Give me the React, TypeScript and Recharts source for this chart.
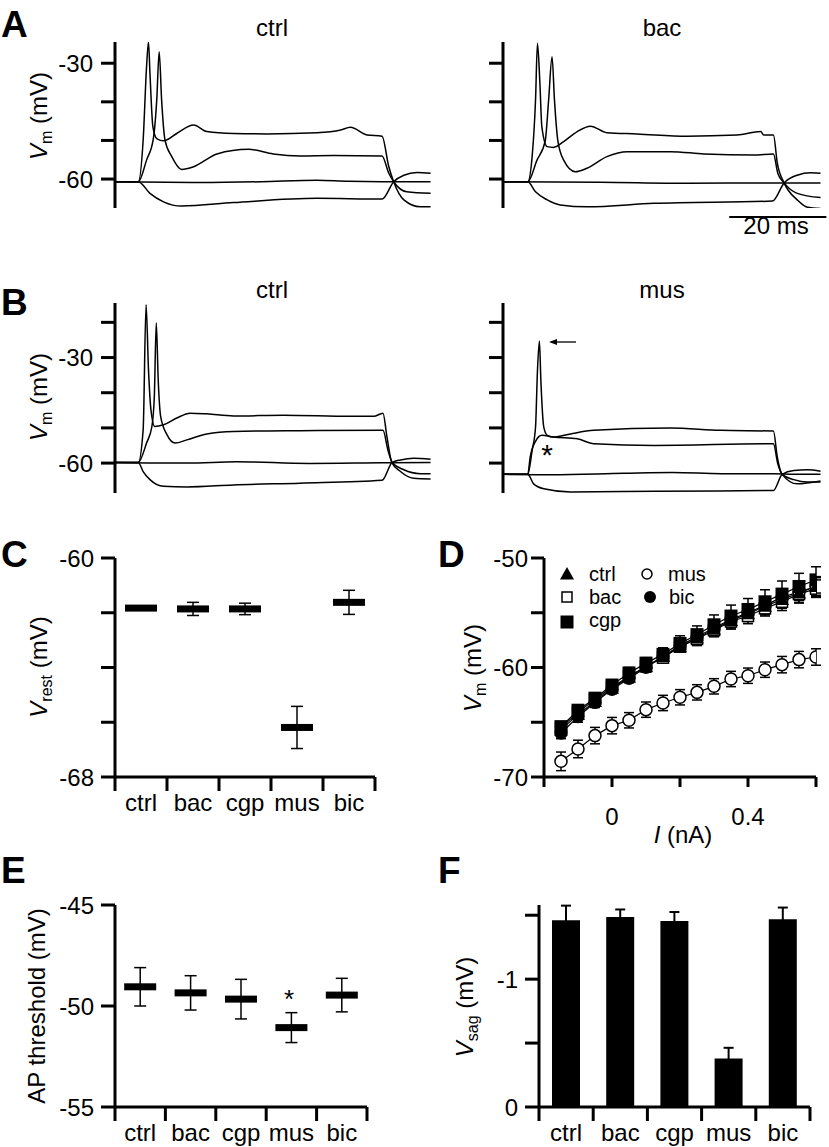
import React from "react";
import {
  Bar,
  ComposedChart,
  ErrorBar,
  Line,
  LineChart,
  ReferenceLine,
  XAxis,
  YAxis,
} from "recharts";

const FONT = "'Liberation Sans', Arial, Helvetica, sans-serif";
const INK = "#000";
const AXIS_LINE = { stroke: INK, strokeWidth: 3 };
const TICK_TEXT = { fill: INK, fontSize: 24, fontFamily: FONT };

// A / B: membrane potential traces, [time (ms), Vm (mV)]
type Pt = [number, number];

const aCtrlHi: Pt[] = [[0, -60.7], [4.8, -60.7], [5.8, -49.9], [6.5, -30.9], [6.9, -24.5], [7.2, -32.6], [7.8, -46.4], [8.6, -49.5], [10, -50.1], [12.7, -48.2], [16.2, -46.0], [18.9, -47.7], [24.4, -48.2], [31.3, -48.3], [41.6, -48.0], [46.5, -47.3], [48.5, -46.6], [51.9, -48.6], [55, -48.9], [56.4, -56.8], [57.4, -60.7], [59.5, -65.4], [62.9, -67.2], [65, -67.2]];
const aCtrlMid: Pt[] = [[0, -60.7], [4.8, -60.7], [6.5, -55.1], [7.9, -49.5], [8.6, -39.5], [9.1, -27.0], [9.6, -39.5], [10.3, -49.9], [11.7, -54.2], [13.7, -57.5], [16.2, -56.8], [21, -53.5], [27.5, -52.3], [32.6, -53.5], [38.1, -54.0], [45, -53.9], [55, -54.0], [56.4, -58.5], [57.4, -60.7], [60.1, -63.3], [65, -63.7]];
const aCtrlZero: Pt[] = [[0, -60.7], [17.5, -60.9], [30, -60.7], [41.6, -60.3], [48, -60.6], [55, -60.7], [65, -60.7]];
const aCtrlNeg: Pt[] = [[0, -60.7], [4.8, -60.7], [7.2, -63.7], [10, -65.9], [13.7, -67.0], [24.4, -66.1], [41.6, -65.0], [55, -65.2], [57.4, -60.7], [59.5, -59.0], [62.2, -58.3], [65, -58.5]];

const aBacHi: Pt[] = [[0, -60.7], [5.1, -60.7], [6, -54.2], [6.7, -39.5], [7.1, -24.8], [7.6, -35.2], [8, -46.4], [9.1, -51.6], [10.4, -51.8], [12.5, -50.3], [15.3, -47.7], [18, -46.3], [21.4, -48.0], [27.6, -48.3], [37.9, -48.9], [48.2, -48.6], [53.1, -47.7], [53.7, -48.6], [55.7, -48.6], [56.5, -55.9], [57.9, -61.0], [60.6, -65.4], [62.7, -67.3], [65.4, -67.6]];
const aBacMid: Pt[] = [[0, -60.7], [5.1, -60.7], [7, -55.1], [8.7, -50.1], [9.4, -39.5], [10.1, -28.3], [10.6, -39.5], [11.3, -50.1], [12.5, -55.1], [14.9, -58.1], [17.3, -57.2], [21.4, -54.2], [25.6, -52.9], [34.5, -52.9], [41.4, -53.5], [51.7, -53.8], [55.7, -53.5], [56.6, -58.5], [57.9, -61.0], [60.6, -63.7], [65.4, -64.8]];
const aBacZero: Pt[] = [[0, -60.7], [20, -60.8], [38, -61.1], [55.7, -61.0], [60, -61.0], [65.4, -61.0]];
const aBacNeg: Pt[] = [[0, -60.7], [5.1, -60.7], [6.7, -63.3], [9.1, -65.4], [11.8, -66.7], [17.3, -67.2], [31.1, -66.3], [55.5, -65.7], [57.9, -61.0], [60.6, -59.0], [63.4, -58.4], [65.4, -58.5]];

const bCtrlHi: Pt[] = [[0, -59.8], [4.8, -59.8], [5.8, -50.5], [6.4, -15.0], [6.9, -33.5], [7.4, -44.8], [8.2, -49.6], [10, -49.1], [12.7, -47.2], [15.5, -45.8], [18.9, -46.0], [24.4, -46.6], [34.7, -46.4], [48.5, -46.7], [53.3, -46.7], [55.2, -45.8], [56, -52.4], [57, -59.8], [58.8, -62.4], [61.5, -64.3], [65, -64.5]];
const bCtrlMid: Pt[] = [[0, -59.8], [4.8, -59.8], [6.5, -54.3], [7.6, -49.6], [8.1, -41.1], [8.5, -20.2], [8.9, -36.3], [9.4, -46.7], [10.7, -51.9], [12.4, -54.3], [14.8, -53.4], [18.9, -51.7], [24.4, -51.0], [38.1, -50.8], [55.2, -50.7], [56.2, -56.2], [57.1, -59.8], [59.5, -61.9], [62.9, -63.0], [65, -63.0]];
const bCtrlZero: Pt[] = [[0, -59.8], [15, -60.0], [25, -59.6], [40, -60.1], [55, -59.9], [65, -59.8]];
const bCtrlNeg: Pt[] = [[0, -59.8], [4.8, -59.8], [5.8, -62.4], [7.2, -64.7], [10, -66.6], [14.8, -66.8], [24.4, -66.2], [38.1, -65.7], [55, -64.9], [57.1, -59.8], [58.8, -59.1], [61.5, -58.6], [65, -58.9]];

const bMusHi: Pt[] = [[0, -63.2], [5.1, -63.2], [6, -56.4], [6.7, -49.8], [7.1, -33.7], [7.5, -25.3], [7.8, -36.5], [8.4, -49.8], [9.1, -52.1], [10.4, -52.6], [13.9, -51.7], [18.7, -50.7], [34.5, -50.0], [44.8, -50.7], [55.7, -50.9], [56.5, -58.3], [57.5, -63.2], [59.9, -64.7], [62.7, -65.4], [65.4, -65.4]];
const bMusMid: Pt[] = [[0, -63.2], [5.1, -63.2], [5.6, -58.3], [6.7, -53.8], [8, -52.1], [10.4, -52.6], [15.3, -53.1], [18.7, -54.5], [31.1, -55.0], [55.7, -54.5], [56.6, -60.2], [57.5, -63.2], [60.6, -65.9], [65.4, -65.1]];
const bMusZero: Pt[] = [[0, -63.2], [10, -63.3], [25, -62.9], [35, -62.7], [45, -63.0], [55.7, -63.0], [60, -63.2], [65.4, -63.2]];
const bMusNeg: Pt[] = [[0, -63.2], [5.1, -63.2], [6.3, -65.9], [8.4, -67.3], [13.9, -68.2], [31.1, -68.0], [55.7, -67.8], [57.5, -63.2], [59.9, -62.1], [62.7, -61.9], [65.4, -62.3]];

const scaleBarMs = [46.6, 66.6];
const scaleBarVm = -69.9;

// C, E, F: per-condition summaries
const categories = ["ctrl", "bac", "cgp", "mus", "bic"];
const vrestMean = [-61.83, -61.86, -61.86, -66.19, -61.62];
const vrestErr = [0.05, 0.24, 0.21, 0.77, 0.44];
const thrMean = [-49.05, -49.35, -49.66, -51.07, -49.46];
const thrErr = [0.95, 0.85, 0.98, 0.74, 0.83];
const sagMean = [-1.46, -1.487, -1.455, -0.38, -1.469];
const sagErr = [0.115, 0.058, 0.07, 0.083, 0.091];

// D: I-V relation
const currents = [-0.15, -0.1, -0.05, 0, 0.05, 0.1, 0.15, 0.2, 0.25, 0.3, 0.35, 0.4, 0.45, 0.5, 0.55, 0.6];
const ivCtrl = [-65.7, -64.3, -63.1, -61.9, -60.9, -59.9, -59.0, -58.1, -57.3, -56.5, -55.7, -55.1, -54.4, -53.8, -53.2, -52.6];
const ivBac = [-65.5, -64.1, -62.9, -61.8, -60.8, -59.9, -59.1, -58.1, -57.4, -56.6, -55.8, -55.3, -54.6, -54.0, -53.3, -52.8];
const ivCgp = [-65.4, -63.9, -62.8, -61.6, -60.5, -59.6, -58.8, -57.8, -57.0, -56.1, -55.3, -54.7, -54.0, -53.3, -52.6, -52.0];
const ivMus = [-68.57, -67.44, -66.22, -65.31, -64.82, -63.85, -63.24, -62.72, -62.27, -61.72, -61.05, -60.75, -60.2, -59.74, -59.28, -59.04];
const ivBic = [-66.0, -64.5, -63.2, -62.0, -61.0, -60.0, -59.0, -58.0, -57.2, -56.4, -55.6, -55.0, -54.3, -53.6, -53.1, -52.6];
const ivCtrlErr = [0.4, 0.4, 0.4, 0.4, 0.4, 0.5, 0.5, 0.5, 0.6, 0.6, 0.7, 0.7, 0.8, 0.8, 0.9, 0.9];
const ivBacErr = [0.4, 0.4, 0.4, 0.4, 0.4, 0.4, 0.5, 0.5, 0.6, 0.6, 0.7, 0.7, 0.7, 0.8, 0.8, 0.8];
const ivCgpErr = [0.4, 0.4, 0.4, 0.4, 0.5, 0.5, 0.6, 0.7, 0.8, 0.9, 1.0, 1.0, 1.1, 1.2, 1.2, 1.2];
const ivMusErr = [0.85, 0.8, 0.75, 0.75, 0.7, 0.7, 0.7, 0.7, 0.7, 0.7, 0.7, 0.7, 0.7, 0.75, 0.75, 0.75];
const ivBicErr = [0.5, 0.5, 0.45, 0.4, 0.4, 0.4, 0.5, 0.5, 0.5, 0.6, 0.6, 0.7, 0.7, 0.8, 0.8, 0.8];

const catTicks = [0, 0.5, 1, 1.5, 2, 2.5, 3, 3.5, 4, 4.5, 5];
const TRACE_W = 318;
const TRACE_END = 65.5;

function CatTick(props: any) {
  const { x, y, payload } = props;
  const v = payload.value;
  if (Number.isInteger(v)) {
    return <line x1={x} y1={y} x2={x} y2={y + 14} stroke={INK} strokeWidth={3} />;
  }
  return (
    <text x={x} y={y + 34} textAnchor="middle" fontSize={24} fontFamily={FONT} fill={INK}>
      {categories[Math.floor(v)]}
    </text>
  );
}

const meanDot = (p: any) => (
  <rect key={`m${p.index}`} x={p.cx - 16} y={p.cy - 3.5} width={32} height={7} fill={INK} />
);

function TracePanel({ left, top, height, domain, ticks, labeled, traces, children }: any) {
  const YW = 100, MT = 20, MR = 30, XH = 10;
  return (
    <div style={{ position: "absolute", left: left - YW, top: top - MT }}>
      <LineChart width={TRACE_W + YW + MR} height={height + MT + XH} margin={{ top: MT, right: MR, bottom: 0, left: 0 }}>
        <XAxis type="number" dataKey="t" domain={[0, TRACE_END]} allowDataOverflow height={XH} axisLine={false} tickLine={false} tick={false} />
        <YAxis
          type="number"
          domain={domain}
          allowDataOverflow
          ticks={ticks}
          interval={0}
          width={YW}
          axisLine={AXIS_LINE}
          tickLine={AXIS_LINE}
          tickSize={14}
          tickMargin={8}
          tick={TICK_TEXT}
          tickFormatter={(v: number) => (labeled.includes(v) ? String(v) : "")}
        />
        {traces.map((tr: Pt[], k: number) => (
          <Line
            key={k}
            data={tr.map(([t, v]) => ({ t, v }))}
            dataKey="v"
            type="monotone"
            stroke={INK}
            strokeWidth={1.5}
            dot={false}
            activeDot={false}
            isAnimationActive={false}
          />
        ))}
        {children}
      </LineChart>
    </div>
  );
}

function CatPanel({ left, top, width, height, yDomain, yTicks, yLabeled, reversed, mean, err, bars }: any) {
  const YW = 100, MT = 20, MR = 20, XH = 50;
  const rows = categories.map((c, k) => ({ x: k + 0.5, name: c, m: mean[k], e: err[k] }));
  return (
    <div style={{ position: "absolute", left: left - YW, top: top - MT }}>
      <ComposedChart width={width + YW + MR} height={height + MT + XH} data={rows} margin={{ top: MT, right: MR, bottom: 0, left: 0 }}>
        <XAxis type="number" dataKey="x" domain={[0, 5]} allowDataOverflow ticks={catTicks} interval={0} tickLine={false} tickSize={0} tickMargin={0} tick={<CatTick />} axisLine={AXIS_LINE} height={XH} />
        <YAxis
          type="number"
          domain={yDomain}
          allowDataOverflow
          reversed={reversed}
          ticks={yTicks}
          interval={0}
          width={YW}
          axisLine={AXIS_LINE}
          tickLine={AXIS_LINE}
          tickSize={14}
          tickMargin={7}
          tick={TICK_TEXT}
          tickFormatter={(v: number) => (yLabeled.includes(v) ? String(v) : "")}
        />
        {bars ? (
          <Bar dataKey="m" fill={INK} barSize={28} isAnimationActive={false}>
            <ErrorBar dataKey="e" width={5} strokeWidth={2} stroke={INK} direction="y" />
          </Bar>
        ) : (
          <Line dataKey="m" stroke="none" dot={meanDot} activeDot={false} isAnimationActive={false}>
            <ErrorBar dataKey="e" width={6} strokeWidth={1.5} stroke={INK} direction="y" />
          </Line>
        )}
      </ComposedChart>
    </div>
  );
}

const triDot = (p: any) => (
  <path key={`t${p.index}`} d={`M${p.cx},${p.cy - 7}L${p.cx + 7},${p.cy + 5.5}L${p.cx - 7},${p.cy + 5.5}Z`} fill={INK} />
);
const openSqDot = (p: any) => (
  <rect key={`o${p.index}`} x={p.cx - 5.5} y={p.cy - 5.5} width={11} height={11} fill="#fff" stroke={INK} strokeWidth={1.5} />
);
const fillSqDot = (p: any) => (
  <rect key={`f${p.index}`} x={p.cx - 6.5} y={p.cy - 6.5} width={13} height={13} fill={INK} />
);
const openCircDot = (p: any) => (
  <circle key={`c${p.index}`} cx={p.cx} cy={p.cy} r={6} fill="#fff" stroke={INK} strokeWidth={1.5} />
);
const fillCircDot = (p: any) => (
  <circle key={`b${p.index}`} cx={p.cx} cy={p.cy} r={6.5} fill={INK} />
);

const ivRows = currents.map((i, k) => ({
  i,
  ctrl: ivCtrl[k], ctrlErr: ivCtrlErr[k],
  bac: ivBac[k], bacErr: ivBacErr[k],
  cgp: ivCgp[k], cgpErr: ivCgpErr[k],
  mus: ivMus[k], musErr: ivMusErr[k],
  bic: ivBic[k], bicErr: ivBicErr[k],
}));

const ivSeries = [
  { key: "mus", dot: openCircDot },
  { key: "bic", dot: fillCircDot },
  { key: "bac", dot: openSqDot },
  { key: "ctrl", dot: triDot },
  { key: "cgp", dot: fillSqDot },
];

function IVPanel() {
  const left = 544, top = 558, width = 272, height = 219;
  const YW = 100, MT = 20, MR = 20, XH = 70;
  const iTicks = [-0.2, 0, 0.2, 0.4, 0.6];
  const iLabeled = [0, 0.4];
  const vLabeled = [-70, -60, -50];
  return (
    <div style={{ position: "absolute", left: left - YW, top: top - MT }}>
      <ComposedChart width={width + YW + MR} height={height + MT + XH} data={ivRows} margin={{ top: MT, right: MR, bottom: 0, left: 0 }}>
        <XAxis
          type="number"
          dataKey="i"
          domain={[-0.2, 0.6]}
          allowDataOverflow
          ticks={iTicks}
          interval={0}
          height={XH}
          axisLine={AXIS_LINE}
          tickLine={AXIS_LINE}
          tickSize={10}
          tickMargin={21}
          tick={TICK_TEXT}
          tickFormatter={(v: number) => (iLabeled.includes(v) ? String(v) : "")}
        />
        <YAxis
          type="number"
          domain={[-70, -50]}
          allowDataOverflow
          ticks={[-70, -65, -60, -55, -50]}
          interval={0}
          width={YW}
          axisLine={AXIS_LINE}
          tickLine={AXIS_LINE}
          tickSize={13}
          tickMargin={3}
          tick={TICK_TEXT}
          tickFormatter={(v: number) => (vLabeled.includes(v) ? String(v) : "")}
        />
        {ivSeries.map((s) => (
          <Line
            key={s.key}
            dataKey={s.key}
            stroke={INK}
            strokeWidth={1.2}
            dot={s.dot}
            activeDot={false}
            isAnimationActive={false}
          >
            <ErrorBar dataKey={`${s.key}Err`} width={5} strokeWidth={1.5} stroke={INK} direction="y" />
          </Line>
        ))}
      </ComposedChart>
    </div>
  );
}

function RotLabel({ x, y, main, sub, italic = true }: any) {
  return (
    <text transform={`translate(${x},${y}) rotate(-90)`} textAnchor="middle" fontSize={24} fontFamily={FONT} fill={INK}>
      <tspan fontStyle={italic ? "italic" : "normal"}>{main}</tspan>
      {sub && <tspan fontSize={16} dy={5}>{sub}</tspan>}
      <tspan dy={sub ? -5 : 0}> (mV)</tspan>
    </text>
  );
}

function Overlay() {
  return (
    <svg width={829} height={1147} style={{ position: "absolute", left: 0, top: 0, pointerEvents: "none" }}>
      <g fontFamily={FONT} fill={INK} fontWeight="bold" fontSize={37}>
        <text x={1} y={37}>A</text>
        <text x={1} y={315}>B</text>
        <text x={1} y={567}>C</text>
        <text x={438} y={567}>D</text>
        <text x={1} y={883}>E</text>
        <text x={438} y={883}>F</text>
      </g>
      <g fontFamily={FONT} fill={INK} fontSize={24} textAnchor="middle">
        <text x={272} y={36}>ctrl</text>
        <text x={662} y={36}>bac</text>
        <text x={272} y={298}>ctrl</text>
        <text x={662} y={298}>mus</text>
        <text x={776} y={234}>20 ms</text>
        <text x={683} y={843}>
          <tspan fontStyle="italic">I</tspan> (nA)
        </text>
      </g>
      <RotLabel x={47} y={116} main="V" sub="m" />
      <RotLabel x={47} y={397} main="V" sub="m" />
      <RotLabel x={47} y={667} main="V" sub="rest" />
      <RotLabel x={481} y={668} main="V" sub="m" />
      <RotLabel x={45} y={1006} main="AP threshold" italic={false} />
      <RotLabel x={473} y={1007} main="V" sub="sag" />
      {/* D legend */}
      <g fontFamily={FONT} fill={INK} fontSize={20}>
        <path d="M567,567L574,579.5L560,579.5Z" fill={INK} />
        <text x={589} y={581}>ctrl</text>
        <circle cx={647} cy={574} r={5} fill="#fff" stroke={INK} strokeWidth={1.5} />
        <text x={668} y={581}>mus</text>
        <rect x={562} y={592} width={10} height={10} fill="#fff" stroke={INK} strokeWidth={1.5} />
        <text x={589} y={604}>bac</text>
        <circle cx={650} cy={597} r={6} fill={INK} />
        <text x={669} y={604}>bic</text>
        <rect x={560.5} y={615.5} width={13} height={13} fill={INK} />
        <text x={589} y={627}>cgp</text>
      </g>
      {/* annotations */}
      <text x={547} y={465} textAnchor="middle" fontFamily={FONT} fontSize={30} fill={INK}>*</text>
      <line x1={551} y1={342} x2={576} y2={342} stroke={INK} strokeWidth={1.3} />
      <path d="M549,342L557,339L557,345Z" fill={INK} />
      <text x={289} y={1008} textAnchor="middle" fontFamily={FONT} fontSize={26} fill={INK}>*</text>
    </svg>
  );
}

export default function App() {
  return (
    <div style={{ position: "absolute", left: 0, top: 0, width: 829, height: 1147, background: "#fff", overflow: "hidden" }}>
      <TracePanel left={115} top={42} height={166} domain={[-67.5, -24.5]} ticks={[-60, -50, -40, -30]} labeled={[-60, -30]} traces={[aCtrlHi, aCtrlMid, aCtrlZero, aCtrlNeg]} />
      <TracePanel left={503} top={42} height={166} domain={[-67.5, -24.5]} ticks={[-60, -50, -40, -30]} labeled={[]} traces={[aBacHi, aBacMid, aBacZero, aBacNeg]}>
        <ReferenceLine
          segment={[{ x: scaleBarMs[0], y: scaleBarVm }, { x: scaleBarMs[1], y: scaleBarVm }]}
          stroke={INK}
          strokeWidth={2.5}
          ifOverflow="visible"
        />
      </TracePanel>
      <TracePanel left={115} top={303} height={190} domain={[-68.5, -14.5]} ticks={[-60, -50, -40, -30, -20]} labeled={[-60, -30]} traces={[bCtrlHi, bCtrlMid, bCtrlZero, bCtrlNeg]} />
      <TracePanel left={503} top={303} height={190} domain={[-68.5, -14.5]} ticks={[-60, -50, -40, -30, -20]} labeled={[]} traces={[bMusHi, bMusMid, bMusZero, bMusNeg]} />
      <CatPanel left={115} top={558} width={260} height={219} yDomain={[-68, -60]} yTicks={[-68, -66, -64, -62, -60]} yLabeled={[-68, -60]} mean={vrestMean} err={vrestErr} />
      <IVPanel />
      <CatPanel left={115} top={905} width={252} height={202} yDomain={[-55, -45]} yTicks={[-55, -50, -45]} yLabeled={[-55, -50, -45]} mean={thrMean} err={thrErr} />
      <CatPanel left={539} top={905} width={271} height={202} yDomain={[-1.58, 0]} yTicks={[-1.5, -1, -0.5, 0]} yLabeled={[-1, 0]} reversed mean={sagMean} err={sagErr} bars />
      <Overlay />
    </div>
  );
}
